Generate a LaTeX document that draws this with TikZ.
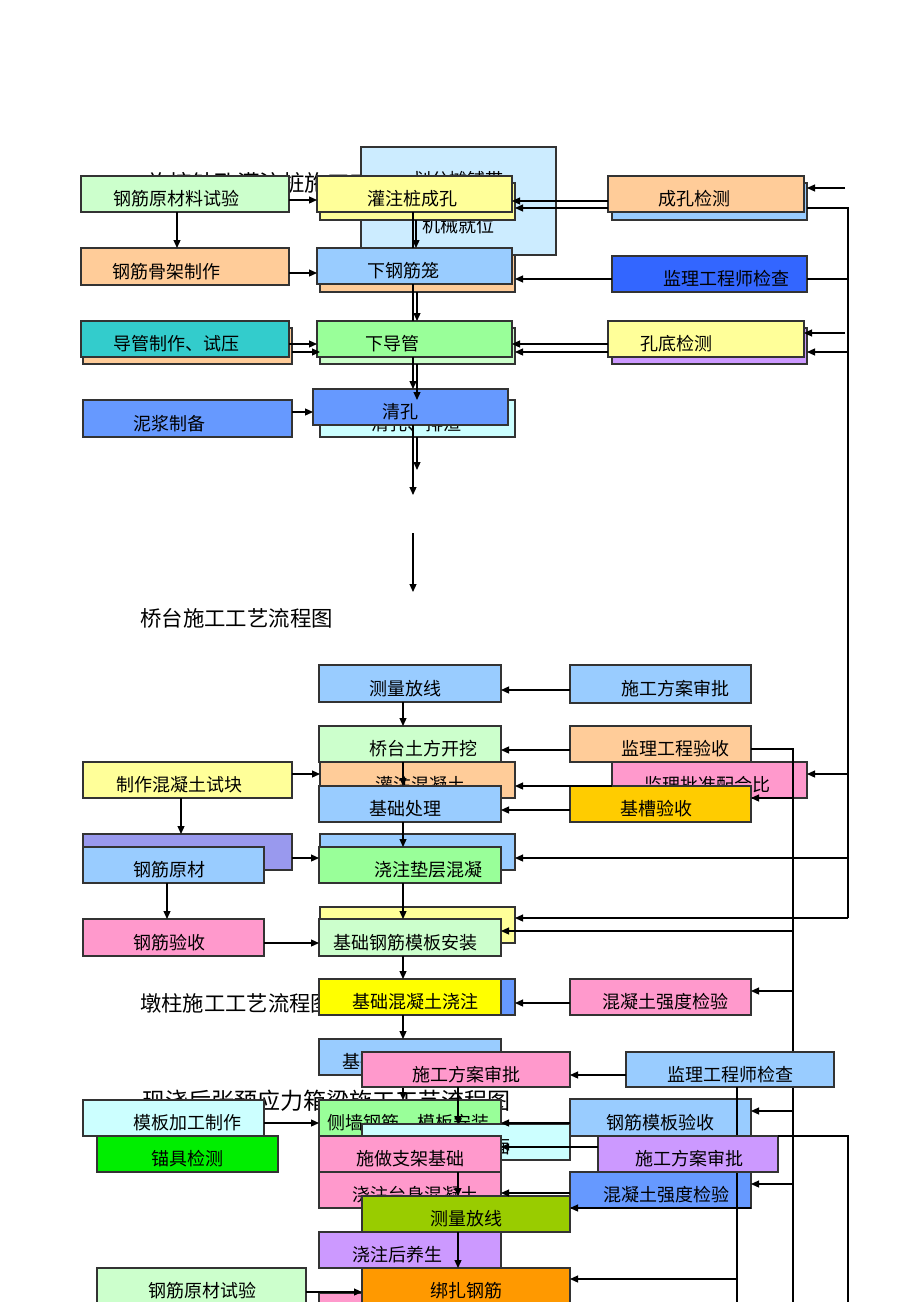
\documentclass[tikz,border=0pt]{standalone}
\usepackage{fontspec}
\setmainfont{Noto Sans CJK SC}
\usepackage{tikz}
\usetikzlibrary{arrows.meta, calc}
\definecolor{boxLine}{HTML}{333333}
\definecolor{boxGreen}{HTML}{CCFFCC}
\definecolor{boxYellow}{HTML}{FFFF99}
\definecolor{boxOrange}{HTML}{FFCC99}
\definecolor{boxBlue}{HTML}{99CCFF}
\definecolor{deepBlue}{HTML}{3366FF}
\definecolor{tealBox}{HTML}{33CCCC}
\definecolor{midGreen}{HTML}{99FF99}
\definecolor{lilac}{HTML}{CC99FF}
\definecolor{midBlue}{HTML}{6699FF}
\definecolor{paleCyan}{HTML}{CCFFFF}
\definecolor{bigCyan}{HTML}{CCECFF}
\definecolor{boxPink}{HTML}{FF99CC}
\definecolor{goldBox}{HTML}{FFCC00}
\definecolor{pureYellow}{HTML}{FFFF00}
\definecolor{lavender}{HTML}{9999EE}
\definecolor{brightGreen}{HTML}{00EE00}
\definecolor{oliveBox}{HTML}{99CC00}
\definecolor{orangeBox}{HTML}{FF9900}
\tikzset{
  box/.style={draw=boxLine, line width=1.2pt, inner sep=0pt, outer sep=0pt, rectangle},
  lbl/.style={inner sep=0pt, font=\fontsize{18}{20}\selectfont},
  ttl/.style={inner sep=0pt, anchor=west},
  arr/.style={-{Triangle[length=8pt,width=7pt]}, line width=1.2pt},
  wire/.style={line width=1.2pt, line join=miter}
}
% box with label: name, x1, y1, x2, y2, fill, label x, label
\newcommand{\flowbox}[8]{%
  \pgfmathsetmacro\fbw{#4-#2}\pgfmathsetmacro\fbh{#5-#3}%
  \node[box, fill=#6, minimum width=\fbw pt, minimum height=\fbh pt] (#1) at ({(#2+#4)/2},{(#3+#5)/2}) {};
  \node[lbl] (#1t) at (#7,{(#3+#5)/2+5}) {#8};}
% box without label
\newcommand{\backbox}[6]{%
  \pgfmathsetmacro\fbw{#4-#2}\pgfmathsetmacro\fbh{#5-#3}%
  \node[box, fill=#6, minimum width=\fbw pt, minimum height=\fbh pt] (#1) at ({(#2+#4)/2},{(#3+#5)/2}) {};}

\begin{document}
\begin{tikzpicture}[x=1pt, y=-1pt]
  \useasboundingbox (0,0) rectangle (920,1302);
  \fill[white] (0,0) rectangle (920,1302);

  % bored piles
  \node[ttl, font=\fontsize{22.5}{24}\selectfont] (ttl1) at (147,183) {旋挖钻孔灌注桩施工工艺流程图};
  \backbox{jxjw}{361}{147}{556}{255}{bigCyan}
  \node[lbl] (jxjw1) at (458,180) {划分摊铺带};
  \node[lbl] (jxjw2) at (458,226) {机械就位};
  \flowbox{gjsy}{81}{176}{289}{212}{boxGreen}{176}{钢筋原材料试验}
  \backbox{gzzck2}{320}{183}{515}{220}{boxYellow}
  \flowbox{gzzck}{317}{176}{512}{212}{boxYellow}{412}{灌注桩成孔}
  \backbox{ckjc2}{612}{183}{807}{220}{boxBlue}
  \flowbox{ckjc}{608}{176}{804}{212}{boxOrange}{694}{成孔检测}
  \flowbox{gjgj}{81}{248}{289}{285}{boxOrange}{166}{钢筋骨架制作}
  \backbox{xgjl2}{320}{255}{515}{292}{boxOrange}
  \flowbox{xgjl}{317}{248}{512}{284}{boxBlue}{403}{下钢筋笼}
  \flowbox{jlgc}{612}{256}{807}{292}{deepBlue}{726}{监理工程师检查}
  \backbox{dgzz2}{83}{328}{292}{364}{boxOrange}
  \flowbox{dgzz}{81}{321}{289}{357}{tealBox}{176}{导管制作、试压}
  \backbox{xdg2}{320}{328}{515}{364}{boxGreen}
  \flowbox{xdg}{317}{321}{512}{357}{midGreen}{392}{下导管}
  \backbox{kdjc2}{612}{328}{807}{364}{lilac}
  \flowbox{kdjc}{608}{321}{804}{357}{boxYellow}{676}{孔底检测}
  \flowbox{njzb}{83}{400}{292}{437}{midBlue}{169}{泥浆制备}
  \flowbox{qk2}{320}{400}{515}{437}{paleCyan}{416}{清孔、排渣}
  \flowbox{qk}{313}{389}{508}{425}{midBlue}{400}{清孔}

  \draw[arr] (gjsy.east |- 0,200) -- (gzzck.west |- 0,200);
  \draw[arr] (gjsy.south -| 177,0) -- (gjgj.north -| 177,0);
  \draw[arr] (gjgj.east |- 0,273) -- (xgjl.west |- 0,273);
  \draw[wire] (gzzck.south -| 413,0) -- (xgjl.north -| 413,0);
  \draw[arr] (gzzck2.south -| 416,0) -- (xgjl.north -| 416,0);
  \draw[arr] (ckjc.west |- 0,201) -- (gzzck.east |- 0,201);
  \draw[arr] (ckjc.west |- 0,208) -- (gzzck2.east |- 0,208);
  \coordinate (in1) at (845,188);
  \draw[arr] (in1) -- (ckjc2.east |- in1);
  \coordinate (busA) at (848,208);
  \coordinate (busB) at (848,918);
  \draw[wire] (ckjc2.east |- busA) -- (busA) -- (busB);
  \draw[arr] (jlgc.west |- 0,279) -- (xgjl2.east |- 0,279);
  \draw[wire] (jlgc.east |- 0,279) -- (busA |- 0,279);
  \draw[arr] (kdjc.west |- 0,344) -- (xdg.east |- 0,344);
  \draw[arr] (kdjc.west |- 0,352) -- (xdg2.east |- 0,352);
  \coordinate (in2) at (845,333);
  \draw[arr] (in2) -- (kdjc.east |- in2);
  \draw[arr] (busA |- 0,352) -- (kdjc2.east |- 0,352);
  \draw[arr] (dgzz.east |- 0,344) -- (xdg.west |- 0,344);
  \draw[arr] (dgzz2.east |- 0,352) -- (xdg2.west |- 0,352);
  \draw[wire] (xgjl.south -| 413,0) -- (xdg.north -| 413,0);
  \draw[arr] (xgjl2.south -| 417,0) -- (xdg.north -| 417,0);
  \draw[arr] (xdg.south -| 413,0) -- (qk.north -| 413,0);
  \draw[arr] (xdg2.south -| 417,0) -- (qk2.north -| 417,0);
  \draw[arr] (njzb.east |- 0,412) -- (qk.west |- 0,412);
  \coordinate (out1) at (413,495);
  \coordinate (out2) at (417,470);
  \draw[arr] (qk.south -| out1) -- (out1);
  \draw[arr] (qk2.south -| out2) -- (out2);
  \coordinate (out3a) at (413,533);
  \coordinate (out3b) at (413,592);
  \draw[arr] (out3a) -- (out3b);

  % abutment
  \node[ttl, font=\fontsize{21.4}{24}\selectfont] (ttl2) at (140,618) {桥台施工工艺流程图};
  \flowbox{clfx}{319}{665}{501}{702}{boxBlue}{405}{测量放线}
  \flowbox{sgfa}{570}{665}{751}{703}{boxBlue}{675}{施工方案审批}
  \flowbox{qttf}{319}{726}{501}{762}{boxGreen}{423}{桥台土方开挖}
  \flowbox{jlys}{570}{726}{751}{762}{boxOrange}{675}{监理工程验收}
  \flowbox{zzsk}{83}{762}{292}{798}{boxYellow}{179}{制作混凝土试块}
  \flowbox{gzhnt}{320}{762}{515}{798}{boxOrange}{420}{灌注混凝土}
  \flowbox{jlpz}{612}{762}{807}{798}{boxPink}{707}{监理批准配合比}
  \flowbox{jccl}{319}{786}{501}{822}{boxBlue}{405}{基础处理}
  \flowbox{jcys}{570}{786}{751}{822}{goldBox}{656}{基槽验收}
  \backbox{zsb}{83}{834}{292}{870}{lavender}
  \flowbox{gjyc}{83}{847}{264}{883}{boxBlue}{169}{钢筋原材}
  \backbox{jzdc2}{320}{834}{515}{870}{boxBlue}
  \flowbox{jzdc}{319}{847}{501}{883}{midGreen}{428}{浇注垫层混凝}
  \flowbox{gjys}{83}{919}{264}{956}{boxPink}{169}{钢筋验收}
  \backbox{jcmb2}{320}{907}{515}{943}{boxYellow}
  \flowbox{jcmb}{319}{919}{501}{956}{boxGreen}{405}{基础钢筋模板安装}
  \node[ttl, font=\fontsize{21.3}{24}\selectfont] (ttl3) at (140,1003) {墩柱施工工艺流程图};
  \backbox{jchnt2}{320}{979}{515}{1015}{midBlue}
  \flowbox{jchnt}{319}{979}{501}{1015}{pureYellow}{415}{基础混凝土浇注}
  \flowbox{hntqd}{570}{979}{751}{1015}{boxPink}{665}{混凝土强度检验}
  \flowbox{jcyh}{319}{1039}{501}{1075}{boxBlue}{405}{基础养护及回填}

  \draw[arr] (clfx.south -| 403,0) -- (qttf.north -| 403,0);
  \draw[arr] (sgfa.west |- 0,690) -- (clfx.east |- 0,690);
  \draw[arr] (jlys.west |- 0,750) -- (qttf.east |- 0,750);
  \draw[arr] (zzsk.east |- 0,774) -- (gzhnt.west |- 0,774);
  \draw[arr] (qttf.south -| 403,0) -- (jccl.north -| 403,0);
  \draw[arr] (jlpz.west |- 0,786) -- (gzhnt.east |- 0,786);
  \draw[arr] (jcys.west |- 0,810) -- (jccl.east |- 0,810);
  \draw[arr] (busA |- 0,774) -- (jlpz.east |- 0,774);
  \coordinate (busC) at (793,749);
  \coordinate (busD) at (793,1302);
  \draw[wire] (jlys.east |- busC) -- (busC) -- (busD);
  \draw[arr] (busC |- 0,798) -- (jcys.east |- 0,798);
  \draw[arr] (busA |- 0,858) -- (jzdc2.east |- 0,858);
  \draw[arr] (busB) -- (jcmb2.east |- busB);
  \draw[arr] (busC |- 0,931) -- (jcmb.east |- 0,931);
  \draw[arr] (zzsk.south -| 181,0) -- (zsb.north -| 181,0);
  \draw[arr] (zsb.east |- 0,858) -- (jzdc.west |- 0,858);
  \draw[arr] (gjyc.south -| 167,0) -- (gjys.north -| 167,0);
  \draw[arr] (gjys.east |- 0,943) -- (jcmb.west |- 0,943);
  \draw[arr] (jccl.south -| 403,0) -- (jzdc.north -| 403,0);
  \draw[arr] (jzdc.south -| 403,0) -- (jcmb.north -| 403,0);
  \draw[arr] (jcmb.south -| 403,0) -- (jchnt.north -| 403,0);
  \draw[arr] (hntqd.west |- 0,1003) -- (jchnt2.east |- 0,1003);
  \draw[arr] (busC |- 0,991) -- (hntqd.east |- 0,991);
  \draw[arr] (jchnt.south -| 403,0) -- (jcyh.north -| 403,0);

  % box girder
  \node[ttl, font=\fontsize{23}{26}\selectfont] (ttl4) at (142,1101) {现浇后张预应力箱梁施工工艺流程图};
  \flowbox{cq}{319}{1100}{501}{1136}{midGreen}{408}{侧墙钢筋、模板安装}
  \draw[arr] (jcyh.south -| 403,0) -- (cq.north -| 403,0);
  \flowbox{sgfa3}{362}{1052}{570}{1087}{boxPink}{466}{施工方案审批}
  \flowbox{mbjg}{83}{1100}{264}{1136}{paleCyan}{187}{模板加工制作}
  \flowbox{mjjc}{97}{1136}{278}{1172}{brightGreen}{187}{锚具检测}
  \flowbox{dm}{362}{1124}{570}{1160}{paleCyan}{438}{支架预压调整底面}
  \flowbox{zjjc}{319}{1136}{501}{1172}{boxPink}{410}{施做支架基础}
  \flowbox{tshnt}{319}{1172}{501}{1208}{boxPink}{415}{浇注台身混凝土}
  \flowbox{jlgc3}{626}{1052}{834}{1087}{boxBlue}{730}{监理工程师检查}
  \flowbox{gjmbys}{570}{1099}{751}{1136}{boxBlue}{660}{钢筋模板验收}
  \flowbox{hntqd2}{570}{1172}{751}{1208}{midBlue}{666}{混凝土强度检验}
  \coordinate (busE) at (737,1302);
  \draw[wire] (jlgc3.south -| busE) -- (busE);
  \flowbox{sgfa4}{598}{1136}{778}{1172}{lilac}{689}{施工方案审批}
  \flowbox{clfx3}{362}{1196}{570}{1232}{oliveBox}{466}{测量放线}
  \flowbox{jzhy}{319}{1232}{501}{1268}{lilac}{397}{浇注后养生}
  \backbox{bot}{319}{1293}{501}{1329}{boxPink}
  \flowbox{bzgj}{362}{1268}{570}{1304}{orangeBox}{466}{绑扎钢筋}
  \flowbox{gjycsy}{97}{1268}{306}{1304}{boxGreen}{202}{钢筋原材试验}

  \draw[arr] (jlgc3.west |- 0,1075) -- (sgfa3.east |- 0,1075);
  \draw[arr] (sgfa3.south -| 458,0) -- (dm.north -| 458,0);
  \draw[arr] (mbjg.east |- 0,1123) -- (cq.west |- 0,1123);
  \draw[arr] (gjmbys.west |- 0,1123) -- (cq.east |- 0,1123);
  \draw[arr] (busC |- 0,1111) -- (gjmbys.east |- 0,1111);
  \draw[arr] (sgfa4.west |- 0,1147) -- (zjjc.east |- 0,1147);
  \coordinate (busF) at (848,1136);
  \coordinate (busG) at (848,1302);
  \draw[wire] (sgfa4.north east) -- (busF) -- (busG);
  \draw[arr] (busC |- 0,1184) -- (hntqd2.east |- 0,1184);
  \draw[arr] (hntqd2.west |- 0,1193) -- (tshnt.east |- 0,1193);
  \draw[arr] (hntqd2.south east) -- (clfx3.east |- hntqd2.south);
  \draw[arr] (tshnt.north -| 458,0) -- (clfx3.north -| 458,0);
  \draw[arr] (clfx3.south -| 458,0) -- (bzgj.north -| 458,0);
  \draw[arr] (gjycsy.east |- 0,1292) -- (bzgj.west |- 0,1292);
  \draw[arr] (busE |- 0,1279) -- (bzgj.east |- 0,1279);
\end{tikzpicture}
\end{document}
